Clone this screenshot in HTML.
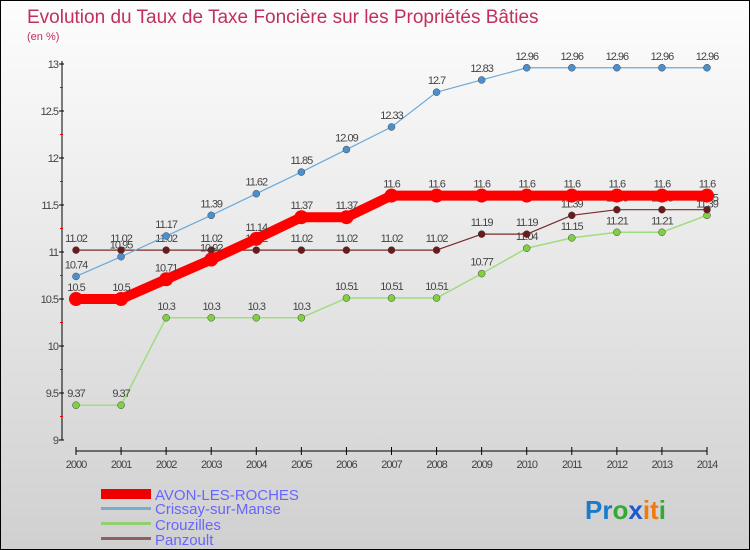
<!DOCTYPE html>
<html><head><meta charset="utf-8"><style>
body{margin:0}
#c{position:relative;width:748px;height:548px;border:1px solid #000;background:linear-gradient(#fdfdfd,#d0d0d0);font-family:"Liberation Sans",sans-serif;overflow:hidden}
</style></head><body>
<div id="c">
<svg id="s" width="748" height="548">
<text x="26" y="22" font-size="19" fill="#c0305a">Evolution du Taux de Taxe Foncière sur les Propriétés Bâties</text>
<text x="26" y="39" font-size="11" fill="#c0305a">(en %)</text>
<g id="axes"></g><g id="series"></g>
<g>
<rect x="100" y="488" width="50" height="10" fill="#e00"/>
<text x="154" y="499" font-size="15" fill="#66f">AVON-LES-ROCHES</text>
<rect x="100" y="506" width="50" height="3" fill="#7aaccf"/>
<text x="154" y="513" font-size="15" fill="#66f">Crissay-sur-Manse</text>
<rect x="100" y="521" width="50" height="3" fill="#90d070"/>
<text x="154" y="529" font-size="15" fill="#66f">Crouzilles</text>
<rect x="100" y="536" width="50" height="3" fill="#906060"/>
<text x="154" y="544" font-size="15" fill="#66f">Panzoult</text>
</g>
<text x="584" y="518" font-size="26" font-weight="bold"><tspan fill="#1a7acc">Pr</tspan><tspan fill="#3a3">o</tspan><tspan fill="#1a5acc">x</tspan><tspan fill="#f07a10">it</tspan><tspan fill="#3a3">i</tspan></text>
</svg>
</div>
<script>
const years=[2000,2001,2002,2003,2004,2005,2006,2007,2008,2009,2010,2011,2012,2013,2014];
const avon=[10.5,10.5,10.71,10.92,11.14,11.37,11.37,11.6,11.6,11.6,11.6,11.6,11.6,11.6,11.6];
const crissay=[10.74,10.95,11.17,11.39,11.62,11.85,12.09,12.33,12.7,12.83,12.96,12.96,12.96,12.96,12.96];
const crouzilles=[9.37,9.37,10.3,10.3,10.3,10.3,10.51,10.51,10.51,10.77,11.04,11.15,11.21,11.21,11.39];
const panzoult=[11.02,11.02,11.02,11.02,11.02,11.02,11.02,11.02,11.02,11.19,11.19,11.39,11.45,11.45,11.45];
const yTicks=[9,9.5,10,10.5,11,11.5,12,12.5,13];
const NS="http://www.w3.org/2000/svg";
const X=i=>75+i*(631/14);
const Y=v=>439-(v-9)*94;
function mk(t,a,p){const e=document.createElementNS(NS,t);for(const k in a)e.setAttribute(k,a[k]);p.appendChild(e);return e;}
const ax=document.getElementById('axes');
const yl=mk('line',{x1:61,y1:60,x2:61,y2:439,stroke:'#000'},ax);


yTicks.forEach(v=>{
 mk('line',{x1:58,y1:Y(v),x2:63,y2:Y(v),stroke:'#000'},ax);
 mk('line',{x1:59,y1:Y(v)-23.5,x2:62,y2:Y(v)-23.5,stroke:v<13?'#e00':'none'},ax);
 const t=mk('text',{x:57,y:Y(v)+4,'font-size':11,'text-anchor':'end',fill:'#444','letter-spacing':'-1'},ax);
 t.textContent=String(v);
 
 
});
const xl=mk('line',{x1:75,y1:450,x2:706,y2:450,stroke:'#000'},ax);


years.forEach((y,i)=>{
 mk('line',{x1:X(i),y1:446,x2:X(i),y2:454,stroke:'#000'},ax);
 const t=mk('text',{x:X(i),y:467,'font-size':11,'text-anchor':'middle',fill:'#444','letter-spacing':'-1'},ax);
 t.textContent=String(y);
 
 
});
const sg=document.getElementById('series');
function series(name,data,color,w,r,dot){
 const g=mk('g',{},sg);
 
 
 const pl=mk('polyline',{points:data.map((v,i)=>X(i)+','+Y(v)).join(' '),fill:'none',stroke:color,'stroke-width':w,'stroke-linejoin':'round'},g);
 
 
 data.forEach((v,i)=>{
  const c=mk('circle',{cx:X(i),cy:Y(v),r:r,fill:dot,stroke:'#444','stroke-width':r>5?0:0.5},g);
  
  
  const t=mk('text',{x:X(i),y:Y(v)-8,'font-size':11,'text-anchor':'middle',fill:'#444','letter-spacing':'-1'},g);
  t.textContent=String(v);
  
  
 });
}
series('crouzilles',crouzilles,'#a0dc80',1.5,3.5,'#80d040');
series('panzoult',panzoult,'#7a2a2a',1.2,3.5,'#6a1a1a');
series('crissay',crissay,'#6aaad8',1.2,3.5,'#4a90d0');
series('avon',avon,'#f00',10,7,'#f00');
</script>
</body></html>
